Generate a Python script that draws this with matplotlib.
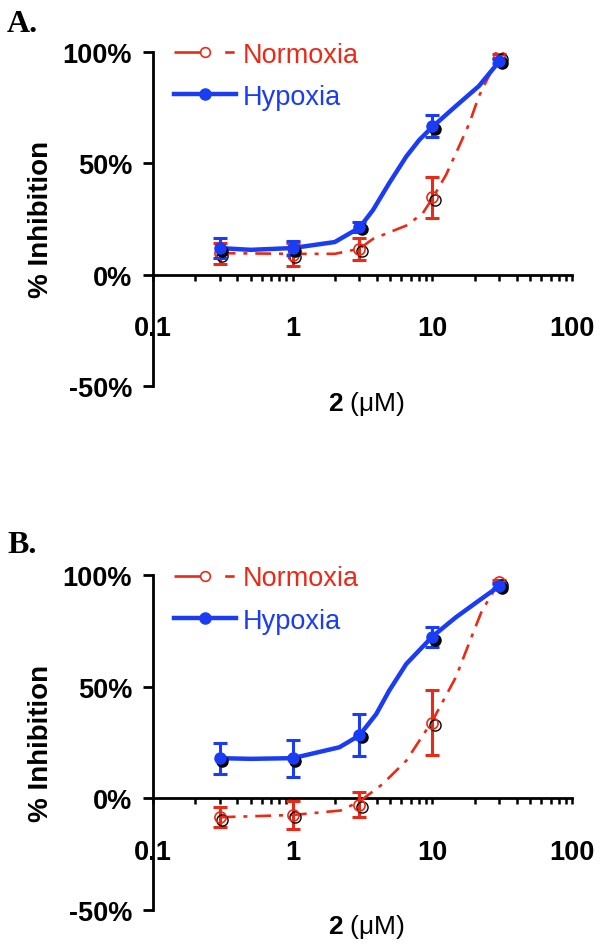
import matplotlib
matplotlib.use("Agg")
import matplotlib.pyplot as plt
from matplotlib.lines import Line2D
from matplotlib.transforms import offset_copy

plt.rcParams['font.family'] = ['Liberation Sans', 'DejaVu Sans']
plt.rcParams['mathtext.fontset'] = 'custom'
plt.rcParams['mathtext.rm'] = 'Liberation Sans'
plt.rcParams['mathtext.bf'] = 'Liberation Sans:bold'

RED = '#ea2a16'
BLUE = '#1a3cf5'

# concentrations (uM)
conc = [0.3, 1, 3, 10, 30]

# panel A data (% inhibition)
a_norm = [9.5, 9.0, 11.6, 34.6, 98.0]
a_norm_err = [4.7, 5.0, 5.0, 9.0, 1.0]
a_hyp = [11.9, 11.9, 21.4, 66.6, 95.9]
a_hyp_err = [4.5, 3.2, 2.3, 5.0, 1.0]

# panel A fitted curves
a_norm_fit_x = [0.3, 1, 2, 3, 3.75, 6.5, 8.5, 10, 12.5, 15.5, 18.4, 21.5, 24.7, 30]
a_norm_fit_y = [9.6, 9.3, 9.3, 11.6, 16, 22, 27.4, 34.2, 44.7, 57.5, 68, 80, 87.7, 98.0]
a_hyp_fit_x = [0.3, 0.5, 1, 2, 3, 3.75, 4.9, 6.5, 8.07, 10, 14.7, 21.5, 30]
a_hyp_fit_y = [11.9, 11.1, 11.9, 14.6, 21.0, 28.9, 41, 53, 60.5, 66.3, 75.6, 84.6, 95.6]

# panel B data
b_norm = [-8.5, -7.5, -2.8, 34.0, 97.0]
b_norm_err = [4.4, 6.3, 5.7, 14.5, 1.0]
b_hyp = [18.0, 18.0, 28.5, 72.2, 95.4]
b_hyp_err = [7.0, 8.3, 9.4, 4.5, 1.0]

# panel B fitted curves
b_norm_fit_x = [0.3, 1, 2.2, 3, 4.4, 6.5, 10, 14.7, 19.4, 22.6, 30]
b_norm_fit_y = [-8.5, -7.5, -5.5, -1.5, 6.4, 16.9, 34.8, 54.3, 73.7, 84.2, 97.0]
b_hyp_fit_x = [0.3, 0.5, 1, 2.16, 3, 3.96, 4.9, 6.5, 10, 14.7, 21.5, 30]
b_hyp_fit_y = [18, 17.7, 18, 22.9, 28.2, 37.8, 48.3, 60.3, 72.6, 81.2, 88.7, 95.2]

yticks = [-50, 0, 50, 100]
ytick_labels = ['-50%', '0%', '50%', '100%']
xticks = [0.1, 1, 10, 100]
xtick_labels = ['0.1', '1', '10', '100']

NORM_DASH = (0, (6, 3, 1.5, 3))

fig = plt.figure(figsize=(6.04, 9.45), dpi=100)


def draw_panel(rect, norm, norm_err, hyp, hyp_err, nfx, nfy, hfx, hfy, tag, tag_y):
    ax = fig.add_axes(rect)
    shadow = offset_copy(ax.transData, fig=fig, x=2.5, y=-2.5, units='dots')

    # normoxia
    ax.plot(nfx, nfy, color=RED, lw=1.9, linestyle=NORM_DASH, zorder=3)
    ax.errorbar(conc, norm, yerr=norm_err, fmt='none', ecolor=RED,
                elinewidth=2.2, capsize=5, capthick=2.2, zorder=3)
    ax.plot(conc, norm, 'o', ms=8, mfc='none', mec='black', mew=1.0,
            transform=shadow, zorder=3)
    ax.plot(conc, norm, 'o', ms=8, mfc='none', mec=RED, mew=1.2, zorder=3)

    # hypoxia
    ax.plot(hfx, hfy, color=BLUE, lw=3.2, zorder=4, solid_joinstyle='round')
    ax.errorbar(conc, hyp, yerr=hyp_err, fmt='none', ecolor=BLUE,
                elinewidth=2.2, capsize=5, capthick=2.2, zorder=4)
    ax.plot(conc, hyp, 'o', ms=8, color='black', transform=shadow, zorder=4)
    ax.plot(conc, hyp, 'o', ms=8, color=BLUE, zorder=5)

    ax.set_xscale('log')
    ax.set_xlim(0.1, 100)
    ax.set_ylim(-50, 100)

    ax.spines['top'].set_visible(False)
    ax.spines['right'].set_visible(False)
    ax.spines['bottom'].set_position(('data', 0))
    ax.spines['left'].set_linewidth(2.0)
    ax.spines['bottom'].set_linewidth(2.0)

    ax.set_yticks(yticks)
    ax.set_yticklabels(ytick_labels, fontsize=19.5, fontweight='bold')
    ax.tick_params(axis='y', direction='out', length=7, width=2.0, pad=8)

    ax.set_xticks(xticks)
    ax.set_xticklabels(xtick_labels, fontsize=19.5, fontweight='bold')
    ax.tick_params(axis='x', which='major', direction='out', length=4, width=1.8, pad=25)
    ax.tick_params(axis='x', which='minor', direction='out', length=4, width=1.8)

    ax.set_ylabel('% Inhibition', fontsize=20, fontweight='bold', labelpad=6)
    ax.text(0.51, -0.05, r'$\mathbf{2}$ (μM)', transform=ax.transAxes,
            fontsize=19, ha='center', va='center')

    handles = [
        Line2D([], [], color=RED, lw=1.9, linestyle=(0, (10.4, 8.8, 3.6, 10)),
               marker='o', ms=7, mfc='white', mec=RED, mew=1.2),
        Line2D([], [], color=BLUE, lw=3.2, marker='o', ms=8),
    ]
    ax.legend(handles, ['Normoxia', 'Hypoxia'], loc='upper left',
              bbox_to_anchor=(0.05, 1.03), frameon=False, fontsize=19.5,
              handlelength=2.3, handletextpad=0.25, labelspacing=0.6,
              borderpad=0, borderaxespad=0, labelcolor=[RED, BLUE])

    fig.text(0.012, tag_y, tag, fontsize=23, fontweight='bold',
             family='Liberation Serif', va='center', ha='left')
    return ax


draw_panel([0.2533, 0.5905, 0.694, 0.3537], a_norm, a_norm_err, a_hyp, a_hyp_err,
           a_norm_fit_x, a_norm_fit_y, a_hyp_fit_x, a_hyp_fit_y, 'A.', 1 - 25 / 945)
draw_panel([0.2533, 0.0363, 0.694, 0.3537], b_norm, b_norm_err, b_hyp, b_hyp_err,
           b_norm_fit_x, b_norm_fit_y, b_hyp_fit_x, b_hyp_fit_y, 'B.', 1 - 546 / 945)

fig.savefig('out.png', dpi=100)
